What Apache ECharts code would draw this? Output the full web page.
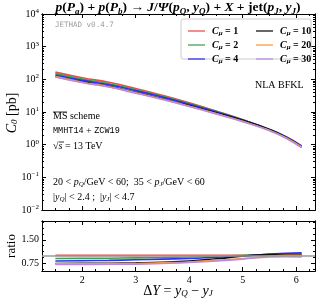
<!DOCTYPE html>
<html><head><meta charset="utf-8">
<script src="https://cdn.jsdelivr.net/npm/echarts@6/dist/echarts.min.js"></script>
<style>html,body{margin:0;padding:0;background:#fff}#c{width:320px;height:300px}</style>
</head><body><div id="c"></div><script>
// ---- data ----
const deltaY = [1.5, 2, 2.5, 3, 3.5, 4, 4.5, 5, 5.5, 5.8, 6.1];
const c0_mu1  = [166, 112, 81, 52.5, 32.4, 19.1, 10.7, 5.75, 2.82, 1.66, 0.85];
const c0_mu2  = [149.4, 101.4, 73.7, 48.3, 30.1, 18.1, 10.5, 5.75, 2.90, 1.74, 0.89];
const c0_mu4  = [136.1, 93.0, 68.0, 45.2, 28.5, 17.2, 10.1, 5.64, 2.93, 1.78, 0.92];
const c0_mu10 = [122.8, 83.4, 60.8, 39.9, 25.3, 15.7, 9.52, 5.58, 2.90, 1.71, 0.87];
const c0_mu20 = [121.2, 81.8, 59.5, 38.9, 24.6, 15.1, 8.99, 5.18, 2.74, 1.66, 0.85];
const c0_mu30 = [117.9, 79.5, 57.9, 37.8, 24.0, 14.7, 8.77, 5.06, 2.68, 1.59, 0.81];
const ratio_mu1  = [1, 1, 1, 1, 1, 1, 1, 1, 1, 1, 1];
const ratio_mu2  = [0.90, 0.905, 0.91, 0.92, 0.93, 0.95, 0.98, 1.00, 1.03, 1.05, 1.05];
const ratio_mu4  = [0.82, 0.83, 0.84, 0.86, 0.88, 0.90, 0.94, 0.98, 1.04, 1.07, 1.08];
const ratio_mu10 = [0.74, 0.745, 0.75, 0.76, 0.78, 0.82, 0.89, 0.97, 1.03, 1.03, 1.02];
const ratio_mu20 = [0.73, 0.73, 0.735, 0.74, 0.76, 0.79, 0.84, 0.90, 0.97, 1.00, 1.00];
const ratio_mu30 = [0.71, 0.71, 0.715, 0.72, 0.74, 0.77, 0.82, 0.88, 0.95, 0.96, 0.95];
const muValues = ['1', '2', '4', '10', '20', '30'];
const xMajorTicks = [2, 3, 4, 5, 6];
const yMainTicks = [0.01, 0.1, 1, 10, 100, 1000, 10000];
const yRatioTicks = [0.75, 1.5];

// ---- styling ----
const colors = ['#e8504a', '#3fa34d', '#3030f0', '#111111', '#ff9a3c', '#b98be0'];
const mainSets = [c0_mu1, c0_mu2, c0_mu4, c0_mu10, c0_mu20, c0_mu30];
const ratioSets = [ratio_mu1, ratio_mu2, ratio_mu4, ratio_mu10, ratio_mu20, ratio_mu30];
const names = muValues.map(m => 'C_mu=' + m);
const SERIF = "'Liberation Serif', 'DejaVu Serif', serif";

const xMinor = [];
for (let v = 1.25; v < 6.36; v += 0.25) { if (Math.abs(v - Math.round(v)) > 1e-6) xMinor.push(+v.toFixed(2)); }
const yMinorLog = [];
for (let e = -2; e < 4; e++) for (let k = 2; k <= 9; k++) yMinorLog.push(+(k * Math.pow(10, e)).toPrecision(3));
const yRatioMinor = [0.5625, 0.9375, 1.125, 1.3125, 1.6875, 1.875, 2.0625];

const axLine = { show: true, lineStyle: { color: '#000', width: 1 } };
function xAx(grid, pos, ticks, len, labels) {
  return {
    type: 'value', gridIndex: grid, position: pos, min: 1.25, max: 6.35,
    axisLine: axLine, splitLine: { show: false },
    axisTick: { show: true, inside: true, length: len, customValues: ticks, lineStyle: { color: '#000' } },
    axisLabel: labels ? { show: true, customValues: xMajorTicks, color: '#000', fontFamily: SERIF, fontSize: 10, margin: 4 } : { show: false }
  };
}
function supLabel(v) {
  const e = Math.round(Math.log10(v));
  return '{b|10}{s|' + (e < 0 ? '\u2212' + (-e) : e) + '}';
}
const richLog = {
  b: { fontFamily: SERIF, fontSize: 10, color: '#000' },
  s: { fontFamily: SERIF, fontSize: 7, color: '#000', padding: [0, 0, 6, 0] }
};
function yLog(pos, ticks, len, labels) {
  return {
    type: 'log', logBase: 10, gridIndex: 0, position: pos, min: 0.01, max: 10000,
    axisLine: axLine, splitLine: { show: false }, minorTick: { show: false },
    axisTick: { show: true, inside: true, length: len, customValues: ticks, lineStyle: { color: '#000' } },
    axisLabel: labels ? { show: true, customValues: yMainTicks, formatter: supLabel, rich: richLog, margin: 3 } : { show: false }
  };
}
function yRat(pos, ticks, len, labels) {
  return {
    type: 'value', gridIndex: 1, position: pos, min: 0.5, max: 2.1,
    axisLine: axLine, splitLine: { show: false },
    axisTick: { show: true, inside: true, length: len, customValues: ticks, lineStyle: { color: '#000' } },
    axisLabel: labels ? { show: true, customValues: yRatioTicks, formatter: v => v.toFixed(2), color: '#000', fontFamily: SERIF, fontSize: 10, margin: 3 } : { show: false }
  };
}

const xAxes = [
  xAx(0, 'bottom', xMajorTicks, 4, false), xAx(0, 'top', xMajorTicks, 4, false),
  xAx(0, 'bottom', xMinor, 2, false), xAx(0, 'top', xMinor, 2, false),
  xAx(1, 'bottom', xMajorTicks, 4, true), xAx(1, 'top', xMajorTicks, 4, false),
  xAx(1, 'bottom', xMinor, 2, false), xAx(1, 'top', xMinor, 2, false)
];
const yAxes = [
  yLog('left', yMainTicks, 4, true), yLog('right', yMainTicks, 4, false),
  yLog('left', yMinorLog, 2, false), yLog('right', yMinorLog, 2, false),
  yRat('left', yRatioTicks, 4, true), yRat('right', yRatioTicks, 4, false),
  yRat('left', yRatioMinor, 2, false), yRat('right', yRatioMinor, 2, false)
];

const series = [];
mainSets.forEach((arr, i) => {
  series.push({
    name: names[i], type: 'line', xAxisIndex: 0, yAxisIndex: 0, smooth: true, symbol: 'none',
    lineStyle: { color: colors[i], width: 1.6 }, itemStyle: { color: colors[i] },
    data: deltaY.map((x, j) => [x, arr[j]])
  });
});
ratioSets.forEach((arr, i) => {
  const s = {
    name: names[i], type: 'line', xAxisIndex: 4, yAxisIndex: 4, smooth: true, symbol: 'none',
    lineStyle: { color: colors[i], width: 1.6 }, itemStyle: { color: colors[i] },
    data: deltaY.map((x, j) => [x, arr[j]])
  };
  if (i === 0) {
    s.markLine = { silent: true, symbol: 'none', label: { show: false },
      lineStyle: { color: '#9a9a9a', width: 1.5, type: 'solid' }, data: [{ yAxis: 1 }] };
  }
  series.push(s);
});

const legRich = {
  i: { fontFamily: SERIF, fontStyle: 'italic', fontWeight: 'bold', fontSize: 10, color: '#000' },
  s: { fontFamily: SERIF, fontStyle: 'italic', fontWeight: 'bold', fontSize: 7, color: '#000', padding: [5, 0, 0, 0] },
  r: { fontFamily: SERIF, fontWeight: 'bold', fontSize: 10, color: '#000' }
};
function legFmt(n) { return '{i|C}{s|\u03bc}{r| = ' + n.split('=')[1] + '}'; }
function legend(left, data) {
  return {
    left: left, top: 21, orient: 'vertical', itemWidth: 17, itemHeight: 10, itemGap: 3,
    icon: 'path://M0,0L20,0L20,1.5L0,1.5Z',
    data: data, formatter: legFmt, textStyle: { rich: legRich, padding: [0, 0, 0, 2] }, selectedMode: false
  };
}

const T = { fontFamily: SERIF, fontWeight: 'bold', fontSize: 13.5, color: '#000' };
const TI = Object.assign({}, T, { fontStyle: 'italic' });
const TS = Object.assign({}, TI, { fontSize: 9, padding: [7, 0, 0, 0] });
const titleRich = { i: TI, r: T, s: TS };
const titleText = '{i|p}{r|(}{i|P}{s|a}{r|) + }{i|p}{r|(}{i|P}{s|b}{r|) \u2192 }{i|J}{r|/}{i|\u03a8}{r|(}{i|p}{s|Q}{r|, }{i|y}{s|Q}{r|) + }{i|X}{r| + jet(}{i|p}{s|J}{r|, }{i|y}{s|J}{r|)}';

const txt = { fontFamily: SERIF, fontSize: 10, color: '#000' };
const txtI = Object.assign({}, txt, { fontStyle: 'italic' });
const txtS = Object.assign({}, txtI, { fontSize: 7, padding: [5, 0, 0, 0] });
const bodyRich = { r: txt, i: txtI, s: txtS, m: { fontFamily: "'Liberation Mono', monospace", fontSize: 8.5, color: '#000' } };

const option = {
  animation: false,
  backgroundColor: '#fff',
  grid: [
    { left: 42, right: 5, top: 14, height: 196 },
    { left: 42, right: 5, top: 221, height: 50 }
  ],
  xAxis: xAxes, yAxis: yAxes,
  legend: [legend(183, names.slice(0, 3)), legend(251, names.slice(3))],
  series: series,
  graphic: [
    { type: 'rect', z: 1, shape: { x: 181, y: 19, width: 130, height: 40, r: 2 }, style: { fill: 'rgba(255,255,255,0.85)', stroke: '#cccccc', lineWidth: 1 } },
    { type: 'text', x: 178, y: 8, style: { text: titleText, rich: titleRich, textAlign: 'center', textVerticalAlign: 'middle' } },
    { type: 'text', x: 55, y: 21, style: { text: 'JETHAD v0.4.7', fontFamily: "'DejaVu Sans Mono', monospace", fontSize: 7.5, fill: '#a0a0a0' } },
    { type: 'text', x: 255, y: 80, style: { text: 'NLA BFKL', fontFamily: SERIF, fontSize: 10, fill: '#000' } },
    { type: 'text', x: 53, y: 111, style: { text: '{r|MS scheme}', rich: bodyRich } },
    { type: 'line', shape: { x1: 53, y1: 112, x2: 67, y2: 112 }, style: { stroke: '#000', lineWidth: 0.8 } },
    { type: 'text', x: 53, y: 126, style: { text: '{m|MMHT14}{r| + }{m|ZCW19}', rich: bodyRich } },
    { type: 'text', x: 53, y: 141, style: { text: '{r|\u221a}{i|s}{r| = 13 TeV}', rich: bodyRich } },
    { type: 'line', shape: { x1: 59, y1: 142, x2: 64, y2: 142 }, style: { stroke: '#000', lineWidth: 0.8 } },
    { type: 'text', x: 53, y: 176, style: { text: '{r|20 < }{i|p}{s|Q}{r|/GeV < 60;  35 < }{i|p}{s|J}{r|/GeV < 60}', rich: bodyRich } },
    { type: 'text', x: 53, y: 191, style: { text: '{r||}{i|y}{s|Q}{r|| < 2.4 ;  |}{i|y}{s|J}{r|| < 4.7}', rich: bodyRich } },
    { type: 'text', x: 12, y: 113, rotation: Math.PI / 2, style: { text: '{i|C}{s|0}{r| [pb]}', rich: {
        i: { fontFamily: SERIF, fontStyle: 'italic', fontSize: 14, color: '#000' },
        s: { fontFamily: SERIF, fontStyle: 'italic', fontSize: 9, color: '#000', padding: [6, 0, 0, 0] },
        r: { fontFamily: SERIF, fontSize: 14, color: '#000' } }, textAlign: 'center', textVerticalAlign: 'middle' } },
    { type: 'text', x: 12, y: 246, rotation: Math.PI / 2, style: { text: 'ratio', fontFamily: SERIF, fontSize: 13, fill: '#000', textAlign: 'center', textVerticalAlign: 'middle' } },
    { type: 'text', x: 178, y: 291, style: { text: '{r|\u0394}{i|Y}{r| = }{i|y}{s|Q}{r| \u2212 }{i|y}{s|J}', rich: {
        i: { fontFamily: SERIF, fontStyle: 'italic', fontSize: 14, color: '#000' },
        s: { fontFamily: SERIF, fontStyle: 'italic', fontSize: 9, color: '#000', padding: [6, 0, 0, 0] },
        r: { fontFamily: SERIF, fontSize: 14, color: '#000' } }, textAlign: 'center', textVerticalAlign: 'middle' } }
  ]
};
const chart = echarts.init(document.getElementById('c'), null, { renderer: 'canvas', width: 320, height: 300 });
chart.setOption(option);
</script></body></html>
